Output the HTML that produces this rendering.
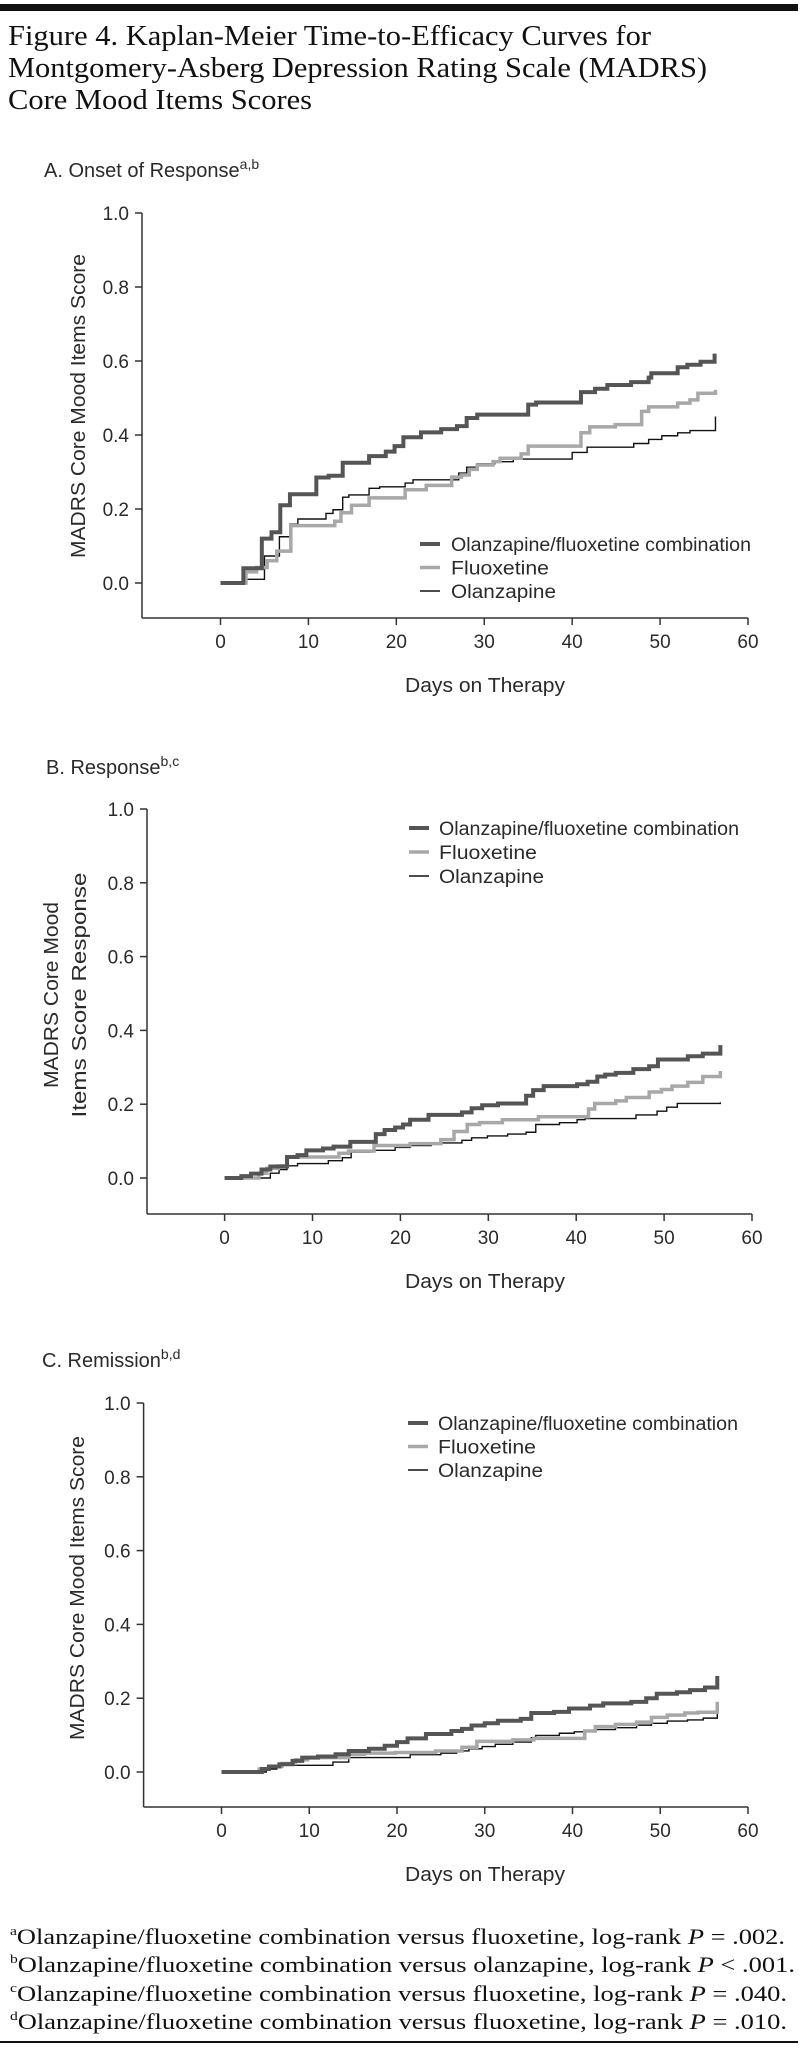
<!DOCTYPE html>
<html><head><meta charset="utf-8"><style>
html,body{margin:0;padding:0;background:#fff;}
svg{display:block;}
text{font-family:"Liberation Sans",sans-serif;fill:#2a2a2a;}
.serif{font-family:"Liberation Serif",serif;fill:#111;}
</style></head><body>
<svg id="fig" width="800" height="2048" viewBox="0 0 800 2048" xmlns="http://www.w3.org/2000/svg">
<rect x="0" y="4" width="798" height="7" fill="#111"/>
<text class="serif" x="8" y="45" font-size="29" textLength="643" lengthAdjust="spacingAndGlyphs">Figure 4. Kaplan-Meier Time-to-Efficacy Curves for</text>
<text class="serif" x="8" y="77" font-size="29" textLength="699" lengthAdjust="spacingAndGlyphs">Montgomery-Asberg Depression Rating Scale (MADRS)</text>
<text class="serif" x="8" y="109" font-size="29" textLength="304" lengthAdjust="spacingAndGlyphs">Core Mood Items Scores</text>

<text class="serif" x="10" y="1944" font-size="22" textLength="775" lengthAdjust="spacingAndGlyphs"><tspan font-size="13" dy="-9">a</tspan><tspan dy="9">Olanzapine/fluoxetine combination versus fluoxetine, log-rank </tspan><tspan font-style="italic">P</tspan><tspan> = .002.</tspan></text>
<text class="serif" x="10" y="1972" font-size="22" textLength="785" lengthAdjust="spacingAndGlyphs"><tspan font-size="13" dy="-9">b</tspan><tspan dy="9">Olanzapine/fluoxetine combination versus olanzapine, log-rank </tspan><tspan font-style="italic">P</tspan><tspan> &lt; .001.</tspan></text>
<text class="serif" x="10" y="2001" font-size="22" textLength="777" lengthAdjust="spacingAndGlyphs"><tspan font-size="13" dy="-9">c</tspan><tspan dy="9">Olanzapine/fluoxetine combination versus fluoxetine, log-rank </tspan><tspan font-style="italic">P</tspan><tspan> = .040.</tspan></text>
<text class="serif" x="10" y="2029" font-size="22" textLength="777" lengthAdjust="spacingAndGlyphs"><tspan font-size="13" dy="-9">d</tspan><tspan dy="9">Olanzapine/fluoxetine combination versus fluoxetine, log-rank </tspan><tspan font-style="italic">P</tspan><tspan> = .010.</tspan></text>
<rect x="0" y="2041" width="798" height="2" fill="#111"/>
</svg>
<script>
// Tick labels
const xTicks = [0, 10, 20, 30, 40, 50, 60];
const yTicks = [0.0, 0.2, 0.4, 0.6, 0.8, 1.0];
const seriesNames = ["Olanzapine/fluoxetine combination", "Fluoxetine", "Olanzapine"];

// Panel A: Onset of Response
const aCombDays = [2.6,4.7,5.8,6.8,7.9,10.9,12.3,13.9,16.9,18.8,19.8,20.8,22.8,25.1,26.9,28,29.2,35,35.9,41,42.6,44,46.7,48.7,49,52,53.1,54.6];
const aCombVals = [0.04,0.12,0.137,0.21,0.24,0.285,0.29,0.325,0.343,0.355,0.37,0.394,0.407,0.416,0.424,0.446,0.455,0.482,0.488,0.516,0.525,0.535,0.543,0.555,0.567,0.583,0.59,0.598];
const aCombEnd = [56.2, 0.62];
const aFluoDays = [2.9,4.1,5.3,6.4,8,13,13.7,14.9,16.9,21,23.4,26.3,27.4,28.3,29.2,31,31.8,34.2,35,41,42,44.9,47.9,48.7,52,53.4,54.3];
const aFluoVals = [0.03,0.042,0.06,0.086,0.155,0.167,0.19,0.21,0.23,0.252,0.264,0.286,0.292,0.307,0.319,0.328,0.337,0.349,0.37,0.406,0.422,0.428,0.464,0.476,0.486,0.495,0.513];
const aFluoEnd = [56.3, 0.522];
const aOlanDays = [2.6,5,6.7,7.9,8.8,12,12.8,13.9,14.6,16.9,18.1,21,21.9,27.1,28,29.2,31.2,33.3,40,41.7,47,48.7,50.2,52,53.4];
const aOlanVals = [0.01,0.073,0.125,0.159,0.173,0.188,0.198,0.232,0.238,0.256,0.26,0.27,0.279,0.297,0.313,0.322,0.328,0.335,0.353,0.367,0.377,0.388,0.398,0.406,0.412];
const aOlanEnd = [56.3, 0.45];

// Panel B: Response
const bCombDays = [1.9,3,4.2,5.2,7.1,8.3,9.3,11.2,12.4,14.3,17.2,18.2,19.4,20.3,21.1,23.2,27,28.1,29.3,31.1,34.3,35.1,36.3,40.1,41.3,42.4,43.3,44.5,46.5,48.3,49.3,52.7,54.4];
const bCombVals = [0.005,0.012,0.023,0.031,0.057,0.062,0.075,0.08,0.085,0.098,0.119,0.13,0.137,0.145,0.158,0.171,0.178,0.189,0.197,0.202,0.223,0.238,0.249,0.254,0.261,0.275,0.28,0.285,0.295,0.303,0.321,0.33,0.337];
const bCombEnd = [56.4, 0.36];
const bFluoDays = [3.9,4.8,6.1,7.1,13,14.1,17,21.1,24.6,26.1,27.6,29,31.6,35.7,41.4,42.1,44.5,45.7,48.3,49.7,50.9,52.7,54.4];
const bFluoVals = [0.013,0.026,0.033,0.057,0.067,0.073,0.088,0.093,0.104,0.126,0.145,0.15,0.158,0.166,0.187,0.202,0.209,0.218,0.233,0.24,0.249,0.259,0.275];
const bFluoEnd = [56.4, 0.29];
const bOlanDays = [5.2,6.2,7.1,8.3,11.8,13.4,14.4,16.5,19.4,21.1,23.5,27,28.1,29.9,32.2,34.3,35.4,38.1,40.1,41,46.8,49.2,50.3,51.5];
const bOlanVals = [0.013,0.023,0.033,0.039,0.047,0.055,0.07,0.075,0.083,0.088,0.095,0.102,0.109,0.114,0.119,0.124,0.145,0.15,0.158,0.161,0.171,0.181,0.192,0.202];
const bOlanEnd = [56.4, 0.205];

// Panel C: Remission
const cCombDays = [4.6,5.4,6.6,8.1,9.2,11,13,14.5,16.8,18.6,20,21.2,23.3,26.2,27.4,28.5,30,31.5,34.1,35.3,37.9,39.6,42,43.5,46.7,48.4,49.6,51.9,53.4,55.1];
const cCombVals = [0.008,0.015,0.021,0.03,0.039,0.042,0.048,0.057,0.063,0.071,0.081,0.091,0.103,0.111,0.117,0.126,0.132,0.139,0.144,0.16,0.163,0.172,0.18,0.186,0.19,0.2,0.212,0.216,0.222,0.229];
const cCombEnd = [56.5, 0.26];
const cFluoDays = [4.3,5.4,6.9,8.4,9.8,14.5,16.3,19.8,24.4,27.4,29.1,33.2,35.6,41.4,42.6,44.9,47.3,49,50.8,52.8,54.3];
const cFluoVals = [0.008,0.015,0.023,0.033,0.039,0.048,0.051,0.053,0.057,0.067,0.083,0.087,0.091,0.111,0.123,0.129,0.135,0.148,0.154,0.16,0.162];
const cFluoEnd = [56.5, 0.19];
const cOlanDays = [5.1,6.3,12.7,14.5,21.5,25,26.8,28.2,29.7,31.2,33.2,35.3,35.8,38.5,40.2,42.6,44.9,47.3,49,50.8,53.1,54.9];
const cOlanVals = [0.008,0.018,0.027,0.039,0.047,0.051,0.057,0.063,0.069,0.075,0.081,0.093,0.099,0.105,0.109,0.115,0.12,0.127,0.132,0.138,0.141,0.146];
const cOlanEnd = [56.5, 0.165];

const NS = "http://www.w3.org/2000/svg";
const svg = document.getElementById("fig");
function mk(tag, attrs, parent) {
  const e = document.createElementNS(NS, tag);
  for (const k in attrs) e.setAttribute(k, attrs[k]);
  (parent || svg).appendChild(e);
  return e;
}
const styles = [
  {stroke: "#555", w: 4},
  {stroke: "#a8a8a8", w: 3.5},
  {stroke: "#111", w: 1.4}
];
const legendWidths = [300, 98, 105];

function panel(cfg) {
  const g = mk("g", {});
  
  
  const xs = d => cfg.x0 + (cfg.x60 - cfg.x0) * d / 60;
  const ys = v => cfg.y0 + (cfg.y1 - cfg.y0) * v;

  const t = mk("text", {x: cfg.tx, y: cfg.ty, "font-size": 20}, g);
  
  
  t.textContent = cfg.title;
  const sup = mk("tspan", {"font-size": 14, dy: -8}, t);
  sup.textContent = cfg.sup;

  const yAxis = mk("line", {x1: cfg.ax, x2: cfg.ax, y1: cfg.y1, y2: cfg.bottom, stroke: "#333", "stroke-width": 1.5}, g);
  
  
  const xAxis = mk("line", {x1: cfg.ax, x2: cfg.x60, y1: cfg.bottom, y2: cfg.bottom, stroke: "#333", "stroke-width": 1.5}, g);
  
  

  yTicks.forEach(v => {
    mk("line", {x1: cfg.ax - 7, x2: cfg.ax, y1: ys(v), y2: ys(v), stroke: "#333", "stroke-width": 1.5}, g);
    const l = mk("text", {x: cfg.ax - 13, y: ys(v) + 7, "font-size": 19, "text-anchor": "end"}, g);
    
    
    l.textContent = v.toFixed(1);
  });
  xTicks.forEach(d => {
    mk("line", {x1: xs(d), x2: xs(d), y1: cfg.bottom, y2: cfg.bottom + 7, stroke: "#333", "stroke-width": 1.5}, g);
    const l = mk("text", {x: xs(d), y: cfg.bottom + 30, "font-size": 19, "text-anchor": "middle"}, g);
    
    
    l.textContent = d;
  });
  const xt = mk("text", {x: 485, y: cfg.bottom + 74, "font-size": 20, "text-anchor": "middle", textLength: 160, lengthAdjust: "spacingAndGlyphs"}, g);
  
  
  xt.textContent = "Days on Therapy";

  cfg.ytitle.forEach((line, i) => {
    const x = cfg.ytx[i];
    const yt = mk("text", {x: x, y: cfg.tyc, "font-size": 20, "text-anchor": "middle", textLength: cfg.ylen[i], lengthAdjust: "spacingAndGlyphs", transform: `rotate(-90 ${x} ${cfg.tyc})`}, g);
    
    
    yt.textContent = line;
  });

  [2, 1, 0].forEach(i => {
    const s = cfg.series[i];
    let d = `M${xs(0)},${ys(0)}`;
    for (let k = 0; k < s.days.length; k++) {
      d += ` H${xs(s.days[k])} V${ys(s.vals[k])}`;
    }
    d += ` H${xs(s.end[0])} V${ys(s.end[1])}`;
    const p = mk("path", {d: d, fill: "none", stroke: styles[i].stroke, "stroke-width": styles[i].w, "stroke-linejoin": "miter"}, g);
    
    
  });

  seriesNames.forEach((n, i) => {
    const y = cfg.leg[1] + i * cfg.leg[3];
    const ln = mk("line", {x1: cfg.leg[0], x2: cfg.leg[0] + 20, y1: y, y2: y, stroke: styles[i].stroke, "stroke-width": styles[i].w}, g);
    
    
    const lt = mk("text", {x: cfg.leg[2], y: y + 7, "font-size": 19, textLength: legendWidths[i], lengthAdjust: "spacingAndGlyphs"}, g);
    
    
    lt.textContent = n;
  });
}

panel({name: "panel-a-onset-of-response", title: "A. Onset of Response", sup: "a,b", tx: 44, ty: 177,
  ax: 142, x0: 220.5, x60: 748, y1: 213, y0: 583, bottom: 618,
  ytitle: ["MADRS Core Mood Items Score"], ytx: [85], ylen: [304], tyc: 406,
  leg: [420, 544, 451, 23.5],
  series: [{days: aCombDays, vals: aCombVals, end: aCombEnd},
           {days: aFluoDays, vals: aFluoVals, end: aFluoEnd},
           {days: aOlanDays, vals: aOlanVals, end: aOlanEnd}]});
panel({name: "panel-b-response", title: "B. Response", sup: "b,c", tx: 46, ty: 774,
  ax: 147, x0: 224.6, x60: 752, y1: 809, y0: 1178, bottom: 1214,
  ytitle: ["MADRS Core Mood", "Items Score Response"], ytx: [58, 86], ylen: [186, 245], tyc: 995,
  leg: [409, 828, 439, 24],
  series: [{days: bCombDays, vals: bCombVals, end: bCombEnd},
           {days: bFluoDays, vals: bFluoVals, end: bFluoEnd},
           {days: bOlanDays, vals: bOlanVals, end: bOlanEnd}]});
panel({name: "panel-c-remission", title: "C. Remission", sup: "b,d", tx: 42, ty: 1367,
  ax: 143.6, x0: 221.5, x60: 748, y1: 1403, y0: 1772, bottom: 1807,
  ytitle: ["MADRS Core Mood Items Score"], ytx: [84], ylen: [304], tyc: 1588,
  leg: [408, 1423, 438, 23.5],
  series: [{days: cCombDays, vals: cCombVals, end: cCombEnd},
           {days: cFluoDays, vals: cFluoVals, end: cFluoEnd},
           {days: cOlanDays, vals: cOlanVals, end: cOlanEnd}]});
</script>
</body></html>
